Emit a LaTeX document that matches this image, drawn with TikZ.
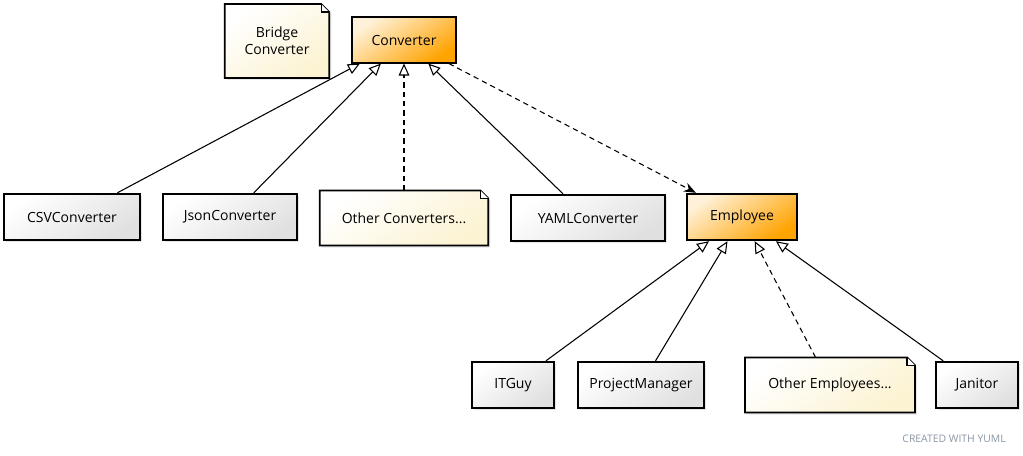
\documentclass[tikz,border=0pt]{standalone}
\usepackage{fontspec}
\setmainfont{Open Sans}
\usetikzlibrary{arrows.meta, shadows, backgrounds}

\definecolor{boxgray}{HTML}{E0E0E0}
\definecolor{boxorange}{HTML}{FFA300}
\definecolor{notecream}{HTML}{FCF3D2}
\definecolor{yumlgray}{HTML}{8A96A3}

\tikzset{
  uml/.style={font=\fontsize{10.5}{13}\selectfont, minimum height=35pt, inner sep=2pt, align=center},
  classbox/.style={uml, draw=black, line width=1.3pt, top color=white, bottom color=boxgray, shading angle=35,
    drop shadow={shadow xshift=1.5pt, shadow yshift=-1.5pt, opacity=0.2}},
  ifacebox/.style={uml, draw=black, line width=1.3pt, top color=boxorange!15, bottom color=boxorange, shading angle=35},
  notebox/.style={uml, minimum height=41pt},
  notepath/.style={draw=black, line width=1.3pt, top color=white, bottom color=notecream, shading angle=35,
    drop shadow={shadow xshift=1.5pt, shadow yshift=-1.5pt, opacity=0.2}},
  inherit/.style={line width=0.8pt, -{Triangle[open, length=9pt, width=8pt]}},
  realize/.style={inherit, dash pattern=on 4pt off 3pt},
  depend/.style={line width=0.8pt, dash pattern=on 4pt off 3pt, -{Stealth[length=9pt, width=7pt]}}
}

\begin{document}
\begin{tikzpicture}[x=0.75pt, y=-0.75pt]
\useasboundingbox (0,0) rectangle (1023,455);

% top row
\node [notebox, minimum width=78pt, minimum height=55pt] (bridge) at (277,41) {Bridge\\Converter};
\node [ifacebox, minimum width=78pt, minimum height=34pt] (conv) at (404,40) {Converter};

% converters
\node [classbox, minimum width=102pt] (csv) at (72,217) {CSVConverter};
\node [classbox, minimum width=100pt] (json) at (230,217) {JsonConverter};
\node [notebox, minimum width=126pt] (otherconv) at (404,218) {Other Converters...};
\node [classbox, minimum width=116pt] (yaml) at (588,218) {YAMLConverter};
\node [ifacebox, minimum width=82pt] (emp) at (742,217) {Employee};

% employees
\node [classbox, minimum width=61pt] (itguy) at (513,385) {ITGuy};
\node [classbox, minimum width=94pt] (pm) at (641,385) {ProjectManager};
\node [notebox, minimum width=127pt] (otheremp) at (830,385) {Other Employees...};
\node [classbox, minimum width=61pt] (janitor) at (977,385) {Janitor};

\node [font=\fontsize{7.8}{9}\selectfont, text=yumlgray, anchor=east, inner sep=0pt] (credit) at (1006,439) {CREATED WITH YUML};

% notes with folded corner
\begin{scope}[on background layer]
\foreach \n in {bridge, otherconv, otheremp} {
  \path [notepath] (\n.north west) -- ([xshift=-6pt]\n.north east) -- ([yshift=-6pt]\n.north east)
    -- (\n.south east) -- (\n.south west) -- cycle;
  \draw [line width=0.9pt, fill=white] ([xshift=-6pt]\n.north east) -- ([xshift=-6pt, yshift=-6pt]\n.north east)
    -- ([yshift=-6pt]\n.north east);
}
\end{scope}

\foreach \c in {csv, json, yaml}
\draw [inherit] (\c) -- (conv);
\draw [realize] (otherconv) -- (conv);
\draw [depend] (conv) -- (emp);

\foreach \e in {itguy, pm, janitor}
\draw [inherit] (\e) -- (emp);
\draw [realize] (otheremp) -- (emp);
\end{tikzpicture}
\end{document}
